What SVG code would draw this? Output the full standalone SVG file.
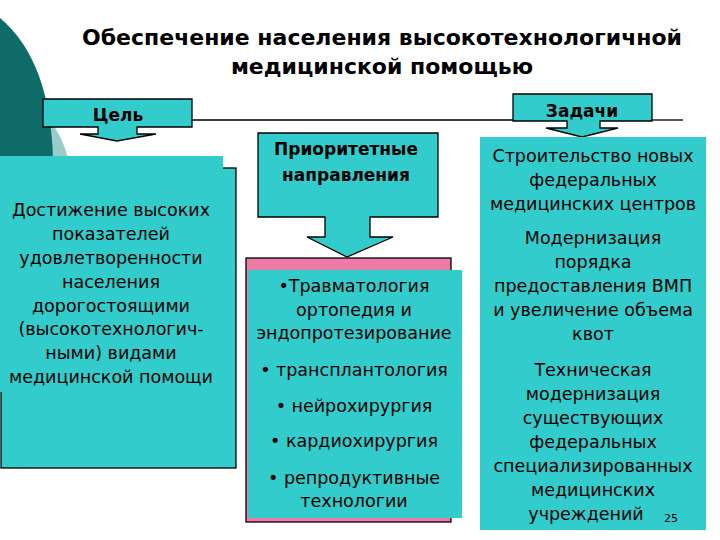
<svg xmlns="http://www.w3.org/2000/svg" width="720" height="540" viewBox="0 0 720 540">
<style>
.t{font-family:"DejaVu Sans","Liberation Sans",sans-serif;fill:#000;text-anchor:middle}
.b{font-weight:bold}
.n{font-size:17.5px}
.h{font-size:17px}
.teal{fill:#33CCCC}
.edge{stroke:#000;stroke-width:1.3}
</style>
<rect width="720" height="540" fill="#fff"/>
<g id="decoration">
<path d="M48,118 Q62,135 68,158 L48,158 Z" fill="#99CCCC"/>
<path d="M0,18 Q50,60 53,158 L0,158 Z" fill="#0E6B68"/>
</g>
<g id="title">
<text class="t b" x="382" y="45" font-size="22">Обеспечение населения высокотехнологичной</text>
<text class="t b" x="382" y="74" font-size="22">медицинской помощью</text>
</g>
<g id="connectors">
<line x1="192" y1="120" x2="513" y2="120" stroke="#000" stroke-width="1.3"/>
<line x1="652" y1="120" x2="683" y2="120" stroke="#000" stroke-width="1.3"/>
</g>
<g id="goal">
<path class="teal edge" d="M43,99 H192 V127 H137 V134 H156 L117,141 L80,134 H98 V127 H43 Z"/>
<text class="t b h" x="118" y="121">Цель</text>
</g>
<g id="goal-box">
<rect class="teal edge" x="1" y="168" width="235" height="300"/>
<rect class="teal" x="0" y="156" width="223" height="236"/>
<text class="t n" x="111" y="216">Достижение высоких</text>
<text class="t n" x="111" y="240">показателей</text>
<text class="t n" x="111" y="264">удовлетворенности</text>
<text class="t n" x="111" y="288">населения</text>
<text class="t n" x="111" y="312">дорогостоящими</text>
<text class="t n" x="111" y="335">(высокотехнологич-</text>
<text class="t n" x="111" y="359">ными)  видами</text>
<text class="t n" x="111" y="383">медицинской помощи</text>
</g>
<g id="priorities">
<path class="teal edge" d="M258,133 H438 V217 H370 V237 H393 L347,257 L307,237 H325 V217 H258 Z"/>
<text class="t b h" x="346" y="155">Приоритетные</text>
<text class="t b h" x="346" y="181">направления</text>
</g>
<g id="directions">
<rect x="246" y="258" width="205" height="264" fill="#EE7AA6" stroke="#000" stroke-width="1.3"/>
<rect class="teal" x="248" y="270" width="214" height="248"/>
<text class="t n" x="354" y="292">•Травматология</text>
<text class="t n" x="354" y="316">ортопедия и</text>
<text class="t n" x="354" y="339">эндопротезирование</text>
<text class="t n" x="354" y="376">• трансплантология</text>
<text class="t n" x="354" y="412">• нейрохирургия</text>
<text class="t n" x="354" y="447">• кардиохирургия</text>
<text class="t n" x="354" y="484">• репродуктивные</text>
<text class="t n" x="354" y="507">технологии</text>
</g>
<g id="tasks">
<path class="teal edge" d="M513,94 H652 V121 H600 V128 H618 L582,137 L546,128 H567 V121 H513 Z"/>
<text class="t b h" x="582" y="117">Задачи</text>
</g>
<g id="tasks-box">
<rect class="teal" x="480" y="137" width="226" height="393"/>
<text class="t n" x="593" y="162">Строительство новых</text>
<text class="t n" x="593" y="186">федеральных</text>
<text class="t n" x="593" y="210">медицинских центров</text>
<text class="t n" x="593" y="244">Модернизация</text>
<text class="t n" x="593" y="268">порядка</text>
<text class="t n" x="593" y="292">предоставления ВМП</text>
<text class="t n" x="593" y="316">и увеличение объема</text>
<text class="t n" x="593" y="340">квот</text>
<text class="t n" x="593" y="376">Техническая</text>
<text class="t n" x="593" y="400">модернизация</text>
<text class="t n" x="593" y="424">существующих</text>
<text class="t n" x="593" y="448">федеральных</text>
<text class="t n" x="593" y="472">специализированных</text>
<text class="t n" x="593" y="496">медицинских</text>
<text class="t n" x="586" y="520">учреждений</text>
<text class="t" x="671" y="522" font-size="11">25</text>
</g>
</svg>
